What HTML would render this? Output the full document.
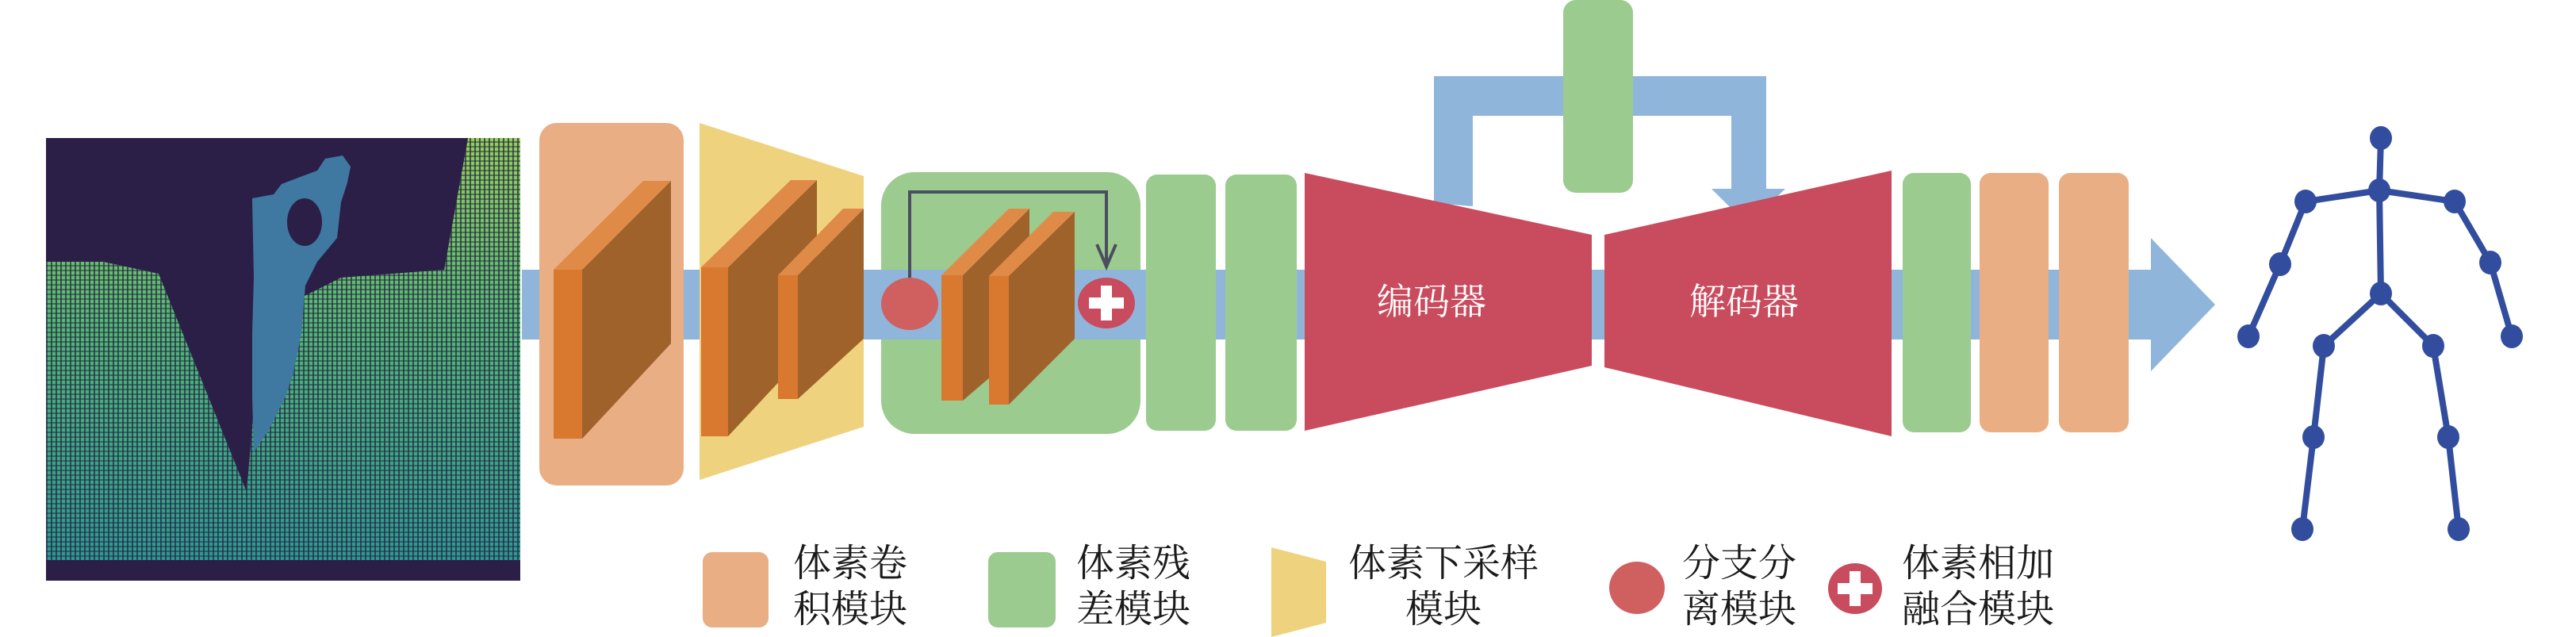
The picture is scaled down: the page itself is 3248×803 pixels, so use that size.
<!DOCTYPE html>
<html><head><meta charset="utf-8"><style>
html,body{margin:0;padding:0;background:#fff;}
svg{display:block;}
text{font-family:"Liberation Serif","Noto Serif CJK SC",serif;}
</style></head><body>
<svg width="3248" height="803" viewBox="0 0 3248 803" xmlns="http://www.w3.org/2000/svg">
<defs>
<linearGradient id="pg" x1="0" y1="0" x2="0" y2="1">
<stop offset="0" stop-color="#8fcf5a"/><stop offset="0.45" stop-color="#4fb873"/><stop offset="1" stop-color="#2a9a8f"/>
</linearGradient>
<pattern id="dots" width="6" height="6" patternUnits="userSpaceOnUse">
<rect x="0" y="0" width="6" height="6" fill="none"/>
<rect x="4" y="0" width="2" height="6" fill="#2c1f47" opacity="0.7"/>
<rect x="0" y="4" width="6" height="2" fill="#2c1f47" opacity="0.5"/>
</pattern>
</defs>
<!-- point cloud -->
<rect x="58" y="174" width="598" height="558" fill="#2c1f47"/>
<polygon points="58,330 130,330 200,345 311,620 330,400 400,350 560,340 590,174 656,174 656,706 58,706" fill="url(#pg)"/>
<polygon points="58,330 130,330 200,345 311,620 330,400 400,350 560,340 590,174 656,174 656,706 58,706" fill="url(#dots)"/>
<polygon points="330,400 430,350 560,340 590,174 330,174" fill="#2c1f47"/>
<path d="M318,250 L345,245 L355,232 L400,215 L410,200 L432,196 L442,210 L438,230 L430,255 L425,300 L400,330 L385,360 L380,420 L370,470 L360,500 L340,540 L320,570 L318,500 L318,420 L320,350 Z" fill="#3f78a0"/>
<ellipse cx="384" cy="280" rx="22" ry="30" fill="#2c1f47"/>
<!-- main blue bar -->
<rect x="658" y="340" width="2056" height="88" fill="#8fb6da"/>
<polygon points="2712,300 2793,384 2712,468" fill="#8fb6da"/>
<!-- conv box -->
<rect x="680" y="155" width="182" height="457" rx="22" fill="#e9ae84"/>
<!-- yellow downsample -->
<polygon points="882,155 1089,222 1089,538 882,605" fill="#efd27e"/>
<!-- green residual box -->
<rect x="1111" y="217" width="327" height="330" rx="42" fill="#9ccb8f"/>
<rect x="1111" y="340" width="327" height="88" fill="#8fb6da"/>
<!-- slabs -->
<g>
<polygon points="734,340 846,228 846,433 734,553" fill="#a0622b"/>
<polygon points="698,340 811,228 846,228 734,340" fill="#e08a48"/>
<rect x="698" y="340" width="36" height="213" fill="#d9782f"/>

<polygon points="918,337 1030,227 1030,430 918,550" fill="#a0622b"/>
<polygon points="884,337 997,227 1030,227 918,337" fill="#e08a48"/>
<rect x="884" y="337" width="34" height="213" fill="#d9782f"/>

<polygon points="1006,347 1089,263 1089,427 1006,503" fill="#a0622b"/>
<polygon points="981,347 1063,263 1089,263 1006,347" fill="#e08a48"/>
<rect x="981" y="347" width="25" height="156" fill="#d9782f"/>

<polygon points="1214,347 1298,263 1298,433 1214,505" fill="#a0622b"/>
<polygon points="1187,347 1272,263 1298,263 1214,347" fill="#e08a48"/>
<rect x="1187" y="347" width="27" height="158" fill="#d9782f"/>

<polygon points="1272,348 1355,267 1355,427 1272,510" fill="#a0622b"/>
<polygon points="1247,348 1328,267 1355,267 1272,348" fill="#e08a48"/>
<rect x="1247" y="348" width="25" height="162" fill="#d9782f"/>
</g>
<!-- skip connection -->
<polyline points="1147,352 1147,242 1395,242 1395,336" fill="none" stroke="#4a4e5e" stroke-width="4"/>
<polyline points="1383,308 1395,336 1407,308" fill="none" stroke="#4a4e5e" stroke-width="4"/>
<ellipse cx="1147" cy="383" rx="36" ry="33" fill="#d0605f"/>
<ellipse cx="1395" cy="382" rx="36" ry="32" fill="#c94b5e"/>
<rect x="1388" y="360" width="14" height="44" fill="#fff"/>
<rect x="1373" y="375" width="44" height="14" fill="#fff"/>
<!-- green blocks -->
<rect x="1445" y="220" width="88" height="323" rx="14" fill="#9ccb8f"/>
<rect x="1545" y="220" width="90" height="323" rx="14" fill="#9ccb8f"/>
<rect x="1445" y="340" width="88" height="88" fill="#8fb6da" opacity="0.0"/>
<!-- top bracket -->
<path d="M1808,256 L1808,96 L2227,96 L2227,238 L2251,238 L2204,284 L2158,238 L2183,238 L2183,146 L1857,146 L1857,260 Z" fill="#8fb6da"/>
<rect x="1971" y="0" width="88" height="243" rx="16" fill="#9ccb8f"/>
<!-- encoder decoder -->
<polygon points="1645,218 2007,296 2007,461 1645,543" fill="#c94b5e"/>
<polygon points="2023,296 2385,215 2385,550 2023,463" fill="#c94b5e"/>
<text x="1805" y="396" font-size="46" fill="#fff" text-anchor="middle">编码器</text>
<text x="2199" y="396" font-size="46" fill="#fff" text-anchor="middle">解码器</text>
<!-- right blocks -->
<rect x="2399" y="218" width="86" height="327" rx="14" fill="#9ccb8f"/>
<rect x="2496" y="218" width="87" height="327" rx="14" fill="#e9ae84"/>
<rect x="2596" y="218" width="88" height="327" rx="14" fill="#e9ae84"/>
<!-- skeleton -->
<g stroke="#334d9e" stroke-width="8" fill="none" stroke-linecap="round">
<polyline points="3002,174 3000,240 3002,370"/>
<polyline points="2835,424 2875,333 2907,254 3000,240 3095,254 3140,331 3167,424"/>
<polyline points="2903,667 2917,551 2930,436 3002,370 3068,436 3087,551 3100,667"/>
</g>
<g fill="#334d9e">
<ellipse cx="3002" cy="174" rx="14" ry="15"/><ellipse cx="3000" cy="240" rx="14" ry="15"/>
<ellipse cx="2907" cy="254" rx="14" ry="15"/><ellipse cx="3095" cy="254" rx="14" ry="15"/>
<ellipse cx="2875" cy="333" rx="14" ry="15"/><ellipse cx="3140" cy="331" rx="14" ry="15"/>
<ellipse cx="2835" cy="424" rx="14" ry="15"/><ellipse cx="3167" cy="424" rx="14" ry="15"/>
<ellipse cx="3002" cy="370" rx="14" ry="15"/>
<ellipse cx="2930" cy="436" rx="14" ry="15"/><ellipse cx="3068" cy="436" rx="14" ry="15"/>
<ellipse cx="2917" cy="551" rx="14" ry="15"/><ellipse cx="3087" cy="551" rx="14" ry="15"/>
<ellipse cx="2903" cy="667" rx="14" ry="15"/><ellipse cx="3100" cy="667" rx="14" ry="15"/>
</g>
<!-- legend -->
<rect x="886" y="696" width="83" height="95" rx="12" fill="#e9ae84"/>
<text x="1000" y="726" font-size="48" fill="#1a1a1a">体素卷</text>
<text x="1000" y="784" font-size="48" fill="#1a1a1a">积模块</text>
<rect x="1246" y="696" width="85" height="95" rx="12" fill="#9ccb8f"/>
<text x="1357" y="726" font-size="48" fill="#1a1a1a">体素残</text>
<text x="1357" y="784" font-size="48" fill="#1a1a1a">差模块</text>
<polygon points="1603,690 1672,708 1672,785 1603,803" fill="#efd27e"/>
<text x="1820" y="726" font-size="48" fill="#1a1a1a" text-anchor="middle">体素下采样</text>
<text x="1820" y="784" font-size="48" fill="#1a1a1a" text-anchor="middle">模块</text>
<ellipse cx="2064" cy="741" rx="35" ry="33" fill="#d0605f"/>
<text x="2121" y="726" font-size="48" fill="#1a1a1a">分支分</text>
<text x="2121" y="784" font-size="48" fill="#1a1a1a">离模块</text>
<ellipse cx="2339" cy="742" rx="34" ry="32" fill="#c94b5e"/>
<rect x="2332" y="720" width="14" height="44" fill="#fff"/>
<rect x="2317" y="735" width="44" height="14" fill="#fff"/>
<text x="2398" y="726" font-size="48" fill="#1a1a1a">体素相加</text>
<text x="2398" y="784" font-size="48" fill="#1a1a1a">融合模块</text>
</svg>
</body></html>
